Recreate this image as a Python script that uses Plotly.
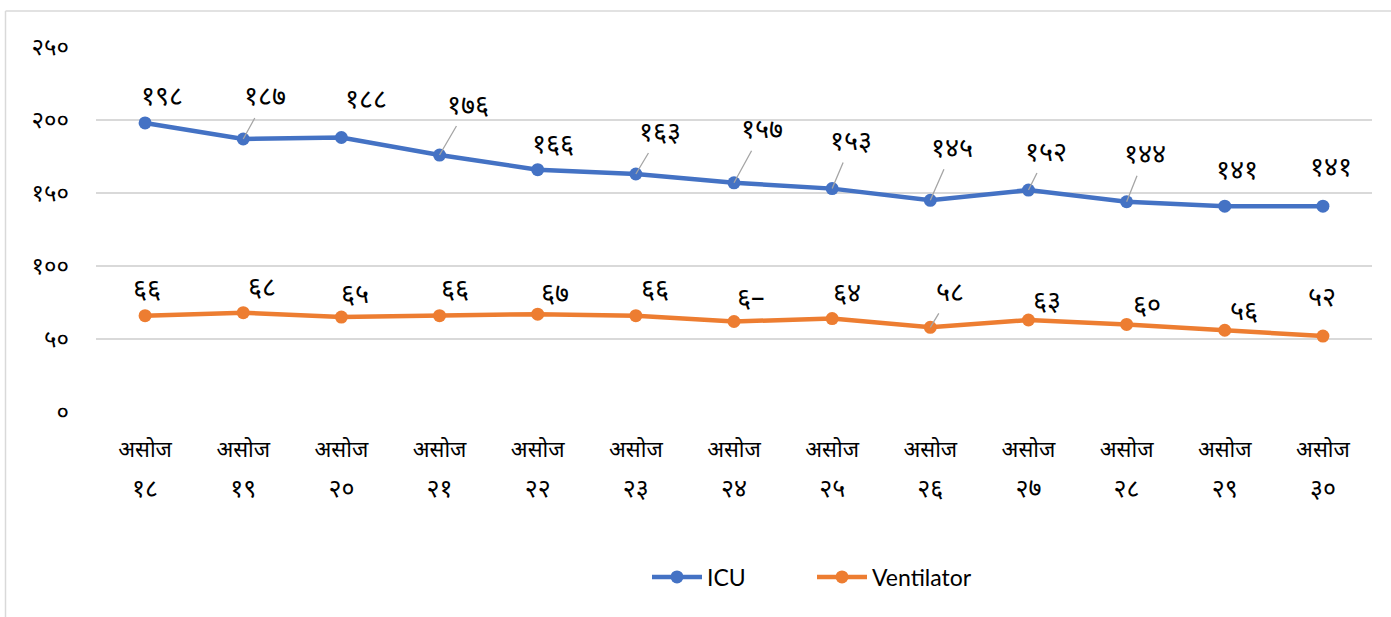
import plotly.graph_objects as go

# ---- data ----
month = "असोज"
days = ["१८", "१९", "२०", "२१", "२२", "२३", "२४", "२५", "२६", "२७", "२८", "२९", "३०"]
icu = [198, 187, 188, 176, 166, 163, 157, 153, 145, 152, 144, 141, 141]
ventilator = [66, 68, 65, 66, 67, 66, 62, 64, 58, 63, 60, 56, 52]
icu_labels = ["१९८", "१८७", "१८८", "१७६", "१६६", "१६३", "१५७", "१५३", "१४५", "१५२", "१४४", "१४१", "१४१"]
vent_labels = ["६६", "६८", "६५", "६६", "६७", "६६", "६–", "६४", "५८", "६३", "६०", "५६", "५२"]
y_tickvals = [0, 50, 100, 150, 200, 250]
y_ticktext = ["०", "५०", "१००", "१५०", "२००", "२५०"]

# ---- label placement (pixel offsets, style only) ----
icu_off = [(17, -24), (22, -40), (25, -36), (28, -48), (15, -23), (24, -40), (28, -51),
           (19, -45), (22, -50), (18, -36), (18, -45), (12, -34), (8, -37)]
icu_leader = [False, True, False, True, False, True, True, True, True, True, True, False, False]
vent_off = [(2, -24), (19, -23), (14, -21), (15, -24), (17, -19), (19, -24), (17, -21),
            (15, -23), (20, -33), (19, -17), (20, -17), (19, -17), (-1, -37)]
vent_leader = [False, False, False, False, False, False, False, False, True, False, False, False, False]

BLUE = "#4472C4"
ORANGE = "#ED7D31"
DEVA = "Noto Sans Devanagari, Noto Sans, Lato, sans-serif"

x = list(range(len(days)))

fig = go.Figure()
fig.add_trace(go.Scatter(x=x, y=icu, name="ICU", mode="lines+markers",
                         line=dict(color=BLUE, width=4.5), marker=dict(size=13, color=BLUE)))
fig.add_trace(go.Scatter(x=x, y=ventilator, name="Ventilator", mode="lines+markers",
                         line=dict(color=ORANGE, width=4.5), marker=dict(size=13, color=ORANGE)))
# dummy trace for second tick-label row
fig.add_trace(go.Scatter(x=x, y=[None] * len(x), xaxis="x2", showlegend=False,
                         hoverinfo="skip", mode="lines"))

annotations = []
for vals, labels, offs, leaders in [(icu, icu_labels, icu_off, icu_leader),
                                     (ventilator, vent_labels, vent_off, vent_leader)]:
    for i, (v, t) in enumerate(zip(vals, labels)):
        ax, ay = offs[i]
        annotations.append(dict(
            x=x[i], y=v, xref="x", yref="y", text=t, showarrow=True,
            ax=ax, ay=ay, arrowhead=0, arrowwidth=1.3,
            arrowcolor="#A5A5A5" if leaders[i] else "rgba(0,0,0,0)",
            font=dict(family=DEVA, size=27, color="#000000"),
        ))

W, H = 1391, 617
L, R, T, B = 96, 19, 47, 205
pw, ph = W - L - R, H - T - B

def px2paper_x(p):
    return (p - L) / pw

def px2paper_y(p):
    return 1 - (p - T) / ph

shapes = [
    dict(type="line", xref="paper", yref="paper",
         x0=px2paper_x(5.5), x1=px2paper_x(5.5), y0=px2paper_y(11), y1=px2paper_y(640),
         line=dict(color="#D9D9D9", width=1.5)),
    dict(type="line", xref="paper", yref="paper",
         x0=px2paper_x(5.5), x1=px2paper_x(1400), y0=px2paper_y(11), y1=px2paper_y(11),
         line=dict(color="#D9D9D9", width=1.5)),
]

fig.update_layout(
    width=W, height=H,
    margin=dict(l=L, r=R, t=T, b=B, pad=0),
    paper_bgcolor="white", plot_bgcolor="white",
    showlegend=True,
    legend=dict(orientation="h", x=px2paper_x(812), xanchor="center", y=px2paper_y(577), yanchor="middle",
                font=dict(family="Lato, Open Sans, sans-serif", size=23, color="#000000"),
                itemwidth=50, entrywidth=100, entrywidthmode="pixels", tracegroupgap=0),
    xaxis=dict(range=[-0.5, len(x) - 0.5], tickvals=x, ticktext=[month] * len(x),
               showgrid=False, zeroline=False, showline=False, ticks="",
               tickfont=dict(family=DEVA, size=22, color="#000000"),
               ticklabelstandoff=22, fixedrange=True),
    xaxis2=dict(overlaying="x", matches="x", side="bottom", anchor="y",
                range=[-0.5, len(x) - 0.5], tickvals=x, ticktext=days,
                showgrid=False, zeroline=False, showline=False, ticks="",
                tickfont=dict(family=DEVA, size=25, color="#000000"),
                ticklabelstandoff=59),
    yaxis=dict(range=[0, 250], tickvals=y_tickvals, ticktext=y_ticktext,
               showgrid=True, gridcolor="#D9D9D9", gridwidth=1.5,
               zeroline=False, showline=False, ticks="",
               tickfont=dict(family=DEVA, size=24, color="#000000"),
               ticklabelstandoff=26),
    annotations=annotations,
    shapes=shapes,
)

fig.write_html("out.html", config={"displayModeBar": False},
               post_script="document.body.style.margin='0';")
